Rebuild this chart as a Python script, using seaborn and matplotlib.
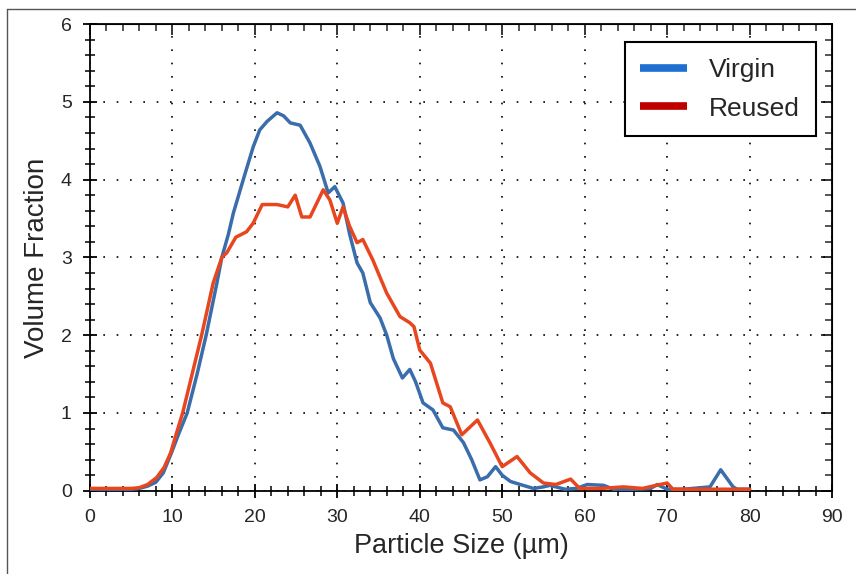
import pandas as pd
import seaborn as sns
import matplotlib.pyplot as plt
from matplotlib.lines import Line2D
from matplotlib.ticker import MultipleLocator

# particle size distributions
virgin_size = [0, 2, 4, 5, 6, 7, 8, 8.9, 9.9, 10.8, 11.8, 13.0, 14.1, 15.4, 16.0, 16.8, 17.4,
               18.6, 19.8, 20.6, 21.5, 22.7, 23.5, 24.3, 25.5, 26.7, 27.9, 28.9, 29.7, 30.7,
               31.5, 32.4, 33.1, 34.0, 35.2, 36.0, 36.8, 37.9, 38.8, 39.5, 40.4, 41.6, 42.8,
               44.1, 45.3, 46.3, 47.3, 48.2, 49.2, 50.0, 51.0, 52.2, 53.8, 55.0, 55.8, 57.6,
               59.0, 60.3, 62.3, 63.5, 66.0, 68.0, 68.8, 70.0, 72.0, 75.2, 76.5, 78.0, 78.5, 80.0]
virgin_frac = [0.02, 0.02, 0.02, 0.02, 0.03, 0.06, 0.11, 0.23, 0.49, 0.74, 1.00, 1.50, 2.00,
               2.67, 3.00, 3.30, 3.57, 4.00, 4.42, 4.64, 4.75, 4.86, 4.82, 4.73, 4.70, 4.47,
               4.17, 3.83, 3.91, 3.70, 3.30, 2.93, 2.80, 2.42, 2.22, 2.00, 1.70, 1.45, 1.56,
               1.40, 1.13, 1.04, 0.81, 0.78, 0.62, 0.40, 0.14, 0.18, 0.31, 0.20, 0.12, 0.08,
               0.03, 0.05, 0.07, 0.02, 0.03, 0.08, 0.07, 0.02, 0.02, 0.03, 0.08, 0.02, 0.02,
               0.05, 0.27, 0.05, 0.02, 0.02]

reused_size = [0, 2, 4, 5, 6, 7, 8.1, 9.0, 9.8, 10.5, 11.25, 12.4, 13.55, 14.95, 16.0, 16.6,
               17.7, 19.0, 19.8, 20.9, 22.7, 24.0, 24.9, 25.7, 26.7, 28.3, 29.1, 30.0, 30.7,
               31.5, 32.4, 33.1, 34.3, 36.0, 37.6, 38.8, 39.3, 40.0, 41.3, 42.8, 43.7, 45.1,
               47.0, 48.5, 50.0, 51.8, 53.4, 55.0, 56.5, 58.3, 59.4, 62.0, 64.7, 67.0, 70.0,
               70.7, 75.0, 80.0]
reused_frac = [0.03, 0.03, 0.03, 0.03, 0.04, 0.08, 0.17, 0.30, 0.49, 0.74, 1.00, 1.50, 2.00,
               2.67, 3.00, 3.06, 3.26, 3.33, 3.44, 3.68, 3.68, 3.65, 3.80, 3.52, 3.52, 3.87,
               3.74, 3.44, 3.65, 3.40, 3.19, 3.23, 2.97, 2.54, 2.24, 2.16, 2.11, 1.81, 1.64,
               1.13, 1.08, 0.72, 0.91, 0.62, 0.31, 0.44, 0.23, 0.10, 0.08, 0.15, 0.03, 0.03,
               0.05, 0.03, 0.10, 0.02, 0.02, 0.02]

labels = ['Virgin', 'Reused']
line_colors = ['#3a6dab', '#e8461e']
legend_colors = ['#1f6fd0', '#c00000']

sns.set_style('ticks')
plt.rcParams['font.family'] = ['Liberation Sans', 'DejaVu Sans']

fig = plt.figure(figsize=(8.56, 5.74), dpi=100)
ax = fig.add_axes([0.105, 0.145, 0.867, 0.813])

df_v = pd.DataFrame({'size': virgin_size, 'frac': virgin_frac})
df_r = pd.DataFrame({'size': reused_size, 'frac': reused_frac})
sns.lineplot(x='size', y='frac', data=df_v, color=line_colors[0], lw=2.5, ax=ax, zorder=3)
sns.lineplot(x='size', y='frac', data=df_r, color=line_colors[1], lw=2.5, ax=ax, zorder=4)

ax.set_xlim(0, 90)
ax.set_ylim(0, 6)
ax.xaxis.set_major_locator(MultipleLocator(10))
ax.xaxis.set_minor_locator(MultipleLocator(2))
ax.yaxis.set_major_locator(MultipleLocator(1))
ax.yaxis.set_minor_locator(MultipleLocator(0.2))
ax.grid(True, which='major', color='black', linestyle=(0, (1, 7)), lw=1.2)

ax.tick_params(which='major', direction='inout', length=10, width=1.3, color='black', pad=8)
ax.tick_params(which='minor', direction='inout', length=7, width=1.1, color='black')
for lab in ax.get_xticklabels() + ax.get_yticklabels():
    lab.set_family(['Liberation Sans Narrow', 'Liberation Sans'])
    lab.set_fontsize(14)
for s in ax.spines.values():
    s.set_color('black')
    s.set_linewidth(1.3)

# ticks pointing inward on the top and right edges
top = ax.secondary_xaxis('top')
top.xaxis.set_major_locator(MultipleLocator(10))
top.xaxis.set_minor_locator(MultipleLocator(2))
top.tick_params(which='major', direction='in', length=8, width=1.3, labeltop=False)
top.tick_params(which='minor', direction='in', length=5, width=1.1)
right = ax.secondary_yaxis('right')
right.yaxis.set_major_locator(MultipleLocator(1))
right.yaxis.set_minor_locator(MultipleLocator(0.2))
right.tick_params(which='major', direction='in', length=8, width=1.3, labelright=False)
right.tick_params(which='minor', direction='in', length=5, width=1.1)

ax.set_xlabel('Particle Size (µm)', fontsize=19.5, labelpad=5)
ax.set_ylabel('Volume Fraction', fontsize=20, labelpad=8)

handles = [Line2D([], [], color=c, lw=5.5, solid_capstyle='butt') for c in legend_colors]
leg = ax.legend(handles, labels, loc='upper right', bbox_to_anchor=(0.978, 0.961),
                fontsize=19, frameon=True, fancybox=False, handlelength=1.75,
                handletextpad=0.85, borderpad=0.6, labelspacing=0.55, borderaxespad=0)
leg.get_frame().set_edgecolor('black')
leg.get_frame().set_linewidth(1.5)
leg.get_frame().set_alpha(1)
leg.set_zorder(10)

# thin frame around the figure (top and left edges visible)
fig.add_artist(Line2D([7 / 856, 1], [1 - 9 / 574, 1 - 9 / 574], color='#555555', lw=1))
fig.add_artist(Line2D([7 / 856, 7 / 856], [0, 1 - 9 / 574], color='#555555', lw=1))

fig.savefig('out.png', dpi=100)
